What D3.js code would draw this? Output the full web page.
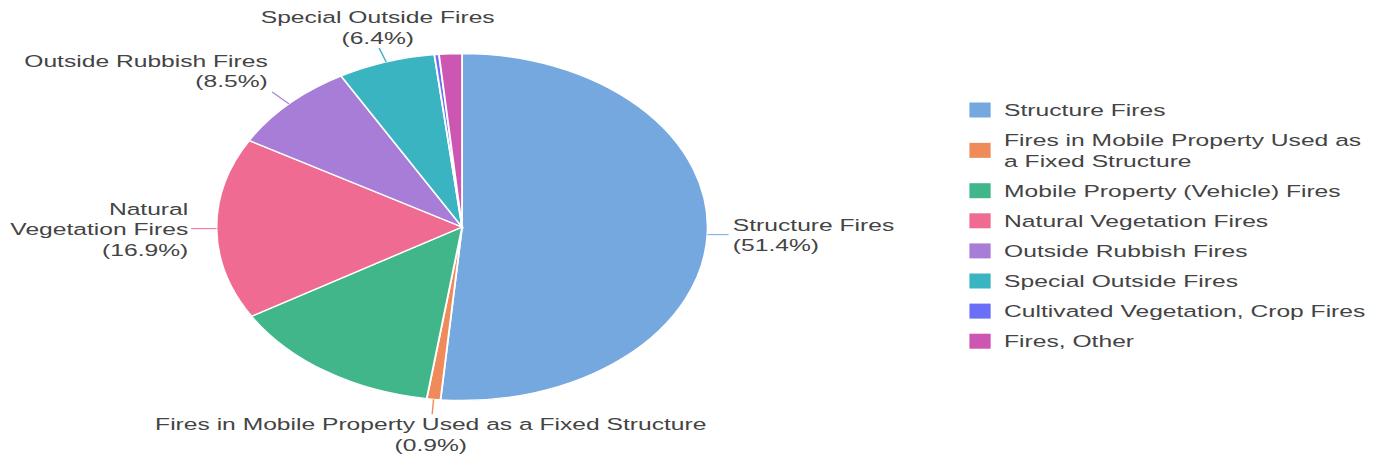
<!DOCTYPE html>
<html>
<head>
<meta charset="utf-8">
<script src="https://cdn.jsdelivr.net/npm/d3@7"></script>
<style>
  html, body { margin: 0; padding: 0; background: #fff; }
  svg { display: block; }
  text { font-family: "Liberation Sans", Arial, sans-serif; font-size: 17.4px; fill: #444; }
</style>
</head>
<body>
<div id="chart"></div>
<script>
// data
const categories = [
  "Structure Fires",
  "Fires in Mobile Property Used as a Fixed Structure",
  "Mobile Property (Vehicle) Fires",
  "Natural Vegetation Fires",
  "Outside Rubbish Fires",
  "Special Outside Fires",
  "Cultivated Vegetation, Crop Fires",
  "Fires, Other"
];
const values = [51.4, 0.9, 14.1, 16.9, 8.5, 6.4, 0.3, 1.5];
const colors = ["#76a8e0", "#ef8a5b", "#41b68b", "#f06b92", "#a77dd7", "#3bb4c2", "#6b6ff5", "#cc56b1"];
const legendLines = [
  ["Structure Fires"],
  ["Fires in Mobile Property Used as", "a Fixed Structure"],
  ["Mobile Property (Vehicle) Fires"],
  ["Natural Vegetation Fires"],
  ["Outside Rubbish Fires"],
  ["Special Outside Fires"],
  ["Cultivated Vegetation, Crop Fires"],
  ["Fires, Other"]
];

// the picture is stretched horizontally, so draw in a narrower box and let it stretch
const W = 973, H = 459;
const cx = 326.5, cy = 227, radius = 173.5;

const svg = d3.select("#chart").append("svg")
  .attr("width", 1377)
  .attr("height", 459)
  .attr("viewBox", `0 0 ${W} ${H}`)
  .attr("preserveAspectRatio", "none");

const pieData = categories.map((c, i) => ({ name: c, value: values[i], color: colors[i] }));
const pie = d3.pie().value(d => d.value).sort(null);
const arc = d3.arc().innerRadius(0).outerRadius(radius);
const edge = d3.arc().innerRadius(radius).outerRadius(radius);

const g = svg.append("g").attr("transform", `translate(${cx},${cy})`);
const arcs = pie(pieData);

g.selectAll("path.slice")
  .data(arcs)
  .enter().append("path")
  .attr("class", "slice")
  .attr("d", arc)
  .attr("fill", d => d.data.color)
  .attr("stroke", "#fff")
  .attr("stroke-width", 1.3);

// outside labels: leader end offset from the slice edge, text anchor and line offsets
const labelCfg = {
  0: { lx: 15, ly: 0, anchor: "start", tx: 18, ty: -4, lines: ["Structure Fires"] },
  1: { lx: -1, ly: 15, anchor: "middle", tx: -2, ty: 31, lines: ["Fires in Mobile Property Used as a Fixed Structure"] },
  3: { lx: -18, ly: 0, anchor: "end", tx: -20, ty: -14, lines: ["Natural", "Vegetation Fires"] },
  4: { lx: -12, ly: -12, anchor: "end", tx: -15, ty: -37, lines: ["Outside Rubbish Fires"] },
  5: { lx: -5, ly: -14, anchor: "middle", tx: -6, ty: -39, lines: ["Special Outside Fires"] }
};

arcs.forEach((d, i) => {
  const cfg = labelCfg[i];
  if (!cfg) return;
  const [ex, ey] = edge.centroid(d);
  g.append("line")
    .attr("x1", ex).attr("y1", ey)
    .attr("x2", ex + cfg.lx).attr("y2", ey + cfg.ly)
    .attr("stroke", d.data.color)
    .attr("stroke-width", 1);
  const t = g.append("text")
    .attr("text-anchor", cfg.anchor)
    .attr("x", ex + cfg.tx)
    .attr("y", ey + cfg.ty);
  const lines = cfg.lines.concat(["(" + d.data.value.toFixed(1) + "%)"]);
  lines.forEach((ln, k) => {
    t.append("tspan")
      .attr("x", ex + cfg.tx)
      .attr("dy", k === 0 ? 0 : 20.5)
      .text(ln);
  });
});

// legend
const legend = svg.append("g").attr("transform", "translate(685,0)");
let y = 110;
legendLines.forEach((lines, i) => {
  const h = (lines.length - 1) * 20.5;
  const mid = y + h / 2;
  legend.append("rect")
    .attr("x", 0).attr("y", mid - 7.5)
    .attr("width", 15).attr("height", 15)
    .attr("fill", colors[i]);
  const t = legend.append("text").attr("x", 24.5).attr("y", y + 6);
  lines.forEach((ln, k) => {
    t.append("tspan").attr("x", 24.5).attr("dy", k === 0 ? 0 : 20.5).text(ln);
  });
  y += h + 30.1;
});
</script>
</body>
</html>
